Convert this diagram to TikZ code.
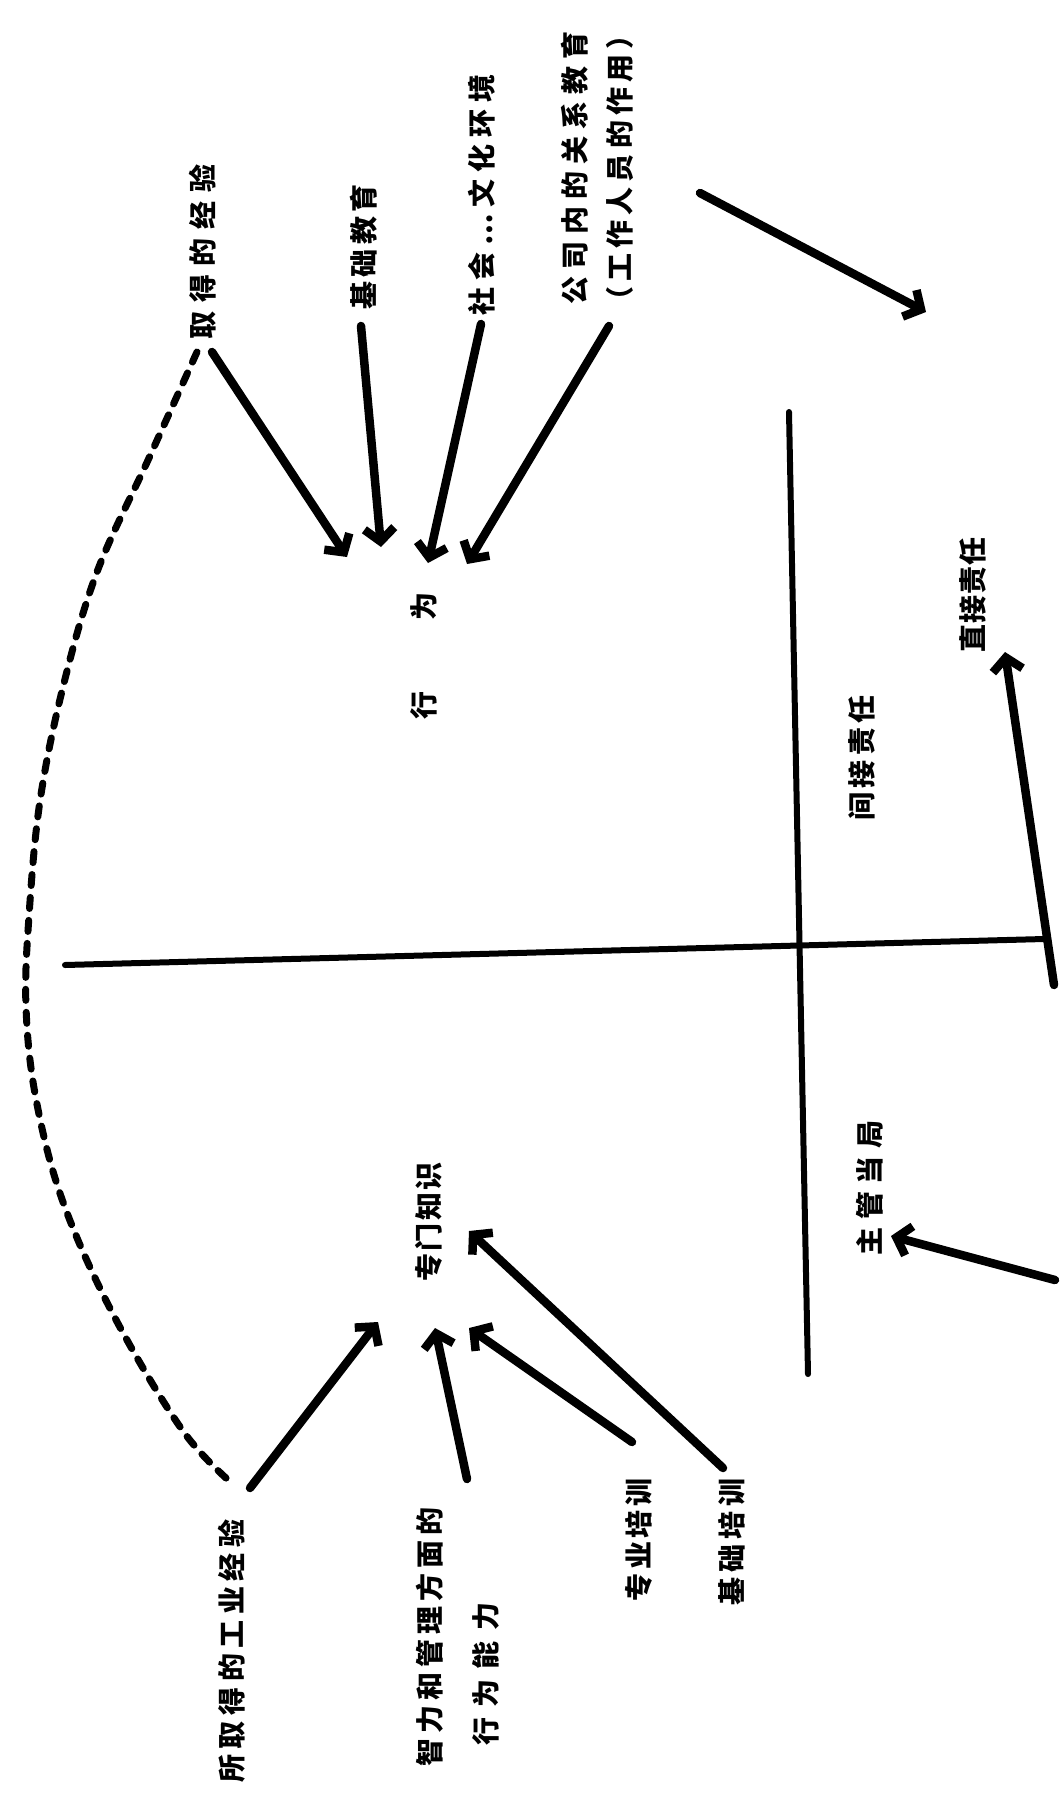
\documentclass[tikz,border=0pt]{standalone}
\usepackage{fontspec}
\newfontfamily\cjk{Noto Sans CJK SC}
\usetikzlibrary{arrows.meta}
\begin{document}
\begin{tikzpicture}[x=1pt,y=-1pt,
  lab/.style={rotate=90, inner sep=0pt, font=\cjk\bfseries\fontsize{28}{31}\selectfont},
  arr/.style={line width=8.5pt, line cap=round, line join=round, -{Straight Barb[length=13pt,width=30pt]}},
  axisline/.style={line width=6pt, line cap=round},
  dashcurve/.style={line width=7pt, line cap=round, dash pattern=on 11pt off 12pt}
]
\fill[white] (0,0) rectangle (1060,1794);
\useasboundingbox (0,0) rectangle (1060,1794);

% labels, top
\node[lab] (jy) at (203,252) {\addfontfeatures{LetterSpace=32}取得的经验};
\node[lab] (jc) at (364,247) {\addfontfeatures{LetterSpace=15}基础教育};
\node[lab] (sh) at (482,195) {\addfontfeatures{LetterSpace=25}社会…文化环境};
\node[lab] (gs) at (575,168) {\addfontfeatures{LetterSpace=25}公司内的关系教育};
\node[lab] (gz) at (620,168) {\addfontfeatures{LetterSpace=18}（工作人员的作用）};

% centre labels
\node[lab] (xw) at (424,656) {行\hspace{71pt}为};
\node[lab] (zm) at (429,1222) {\addfontfeatures{LetterSpace=8}专门知识};

% right labels
\node[lab] (jj) at (862,758) {\addfontfeatures{LetterSpace=15}间接责任};
\node[lab] (zj) at (973,595) {\addfontfeatures{LetterSpace=3}直接责任};
\node[lab] (zg) at (870,1188) {\addfontfeatures{LetterSpace=28}主管当局};

% bottom labels
\node[lab] (gy) at (232,1651) {\addfontfeatures{LetterSpace=20}所取得的工业经验};
\node[lab] (zl1) at (430,1637) {\addfontfeatures{LetterSpace=18}智力和管理方面的};
\node[lab] (zl2) at (486,1674) {\addfontfeatures{LetterSpace=36}行为能力};
\node[lab] (zy) at (639,1540) {\addfontfeatures{LetterSpace=13}专业培训};
\node[lab] (jp) at (732,1542) {\addfontfeatures{LetterSpace=18}基础培训};

% axis lines
\coordinate (vt) at (789,412);
\coordinate (vb) at (808,1374);
\coordinate (hl) at (65,965);
\coordinate (hr) at (1044,939);
\draw[axisline] (vt) -- (vb);
\draw[axisline] (hl) -- (hr);

% dashed arc
\draw[dashcurve] plot[smooth, tension=0.6] coordinates {(197,352) (149,458) (97,572) (63,687) (40,801) (29,916) (26,1007) (36,1099) (63,1202) (114,1316) (183,1431) (235,1486)};

% arrow end points
\coordinate (a1s) at (212,352); \coordinate (a1e) at (347,557);
\coordinate (a2s) at (361,326); \coordinate (a2e) at (381,547);
\coordinate (a3s) at (481,324); \coordinate (a3e) at (428,563);
\coordinate (a4s) at (609,326); \coordinate (a4e) at (467,564);
\coordinate (a5s) at (700,193); \coordinate (a5e) at (926,312);
\coordinate (a6s) at (1054,985); \coordinate (a6e) at (1005,652);
\coordinate (a7s) at (1055,1280); \coordinate (a7e) at (891,1236);
\coordinate (b1s) at (250,1488); \coordinate (b1e) at (378,1322);
\coordinate (b2s) at (467,1479); \coordinate (b2e) at (435,1328);
\coordinate (b3s) at (632,1442); \coordinate (b3e) at (469,1328);
\coordinate (b4s) at (723,1468); \coordinate (b4e) at (469,1231);

\draw[arr] (a1s) -- (a1e);
\draw[arr] (a2s) -- (a2e);
\draw[arr] (a3s) -- (a3e);
\draw[arr] (a4s) -- (a4e);
\draw[arr] (a5s) -- (a5e);
\draw[arr] (a6s) -- (a6e);
\draw[arr] (a7s) -- (a7e);
\draw[arr] (b1s) -- (b1e);
\draw[arr] (b2s) -- (b2e);
\draw[arr] (b3s) -- (b3e);
\draw[arr] (b4s) -- (b4e);
\end{tikzpicture}
\end{document}
